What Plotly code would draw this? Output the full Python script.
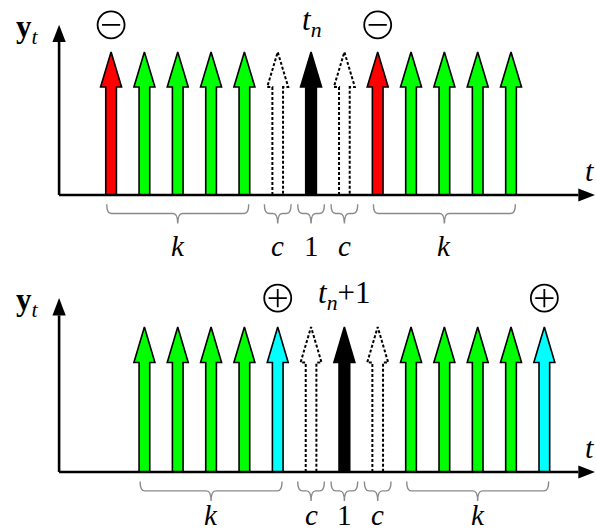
import plotly.graph_objects as go

# Time slots of the impulses in each panel and the role of each impulse
top_times = [0, 1, 2, 3, 4, 5, 6, 7, 8, 9, 10, 11, 12]
top_roles = ["drop", "keep", "keep", "keep", "keep", "gap", "now", "gap",
             "drop", "keep", "keep", "keep", "keep"]
bottom_times = [1, 2, 3, 4, 5, 6, 7, 8, 9, 10, 11, 12, 13]
bottom_roles = ["keep", "keep", "keep", "keep", "add", "gap", "now", "gap",
                "keep", "keep", "keep", "keep", "add"]
impulse_height = 1.0

# Braced groups under the time axis: (first time, last time, label)
top_groups = [(0, 4, "k"), (5, 5, "c"), (6, 6, "1"), (7, 7, "c"), (8, 12, "k")]
bottom_groups = [(1, 5, "k"), (6, 6, "c"), (7, 7, "1"), (8, 8, "c"), (9, 13, "k")]

# Sign markers above impulses: (time, sign)
top_signs = [(0, "minus"), (8, "minus")]
bottom_signs = [(5, "plus"), (13, "plus")]

top_title = "<i>t<sub>n</sub></i>"
bottom_title = "<i>t<sub>n</sub></i>+1"

SERIF = "Liberation Serif, Times New Roman, DejaVu Serif, serif"
ROLE_STYLE = {
    "drop": dict(fill="#ff0000", dash="solid", edge="#000000", w=1.6),
    "keep": dict(fill="#00ff00", dash="solid", edge="#000000", w=1.6),
    "add": dict(fill="#00ffff", dash="solid", edge="#000000", w=1.6),
    "gap": dict(fill="#ffffff", dash="3px,2px", edge="#000000", w=2.0),
    "now": dict(fill="#000000", dash="solid", edge="#000000", w=1.6),
}
SHAFT_HW = 0.16
HEAD_HW = 0.315
HEAD_LEN = 0.245

X_RANGE = [-3.333, 14.55]
AXIS_ORIGIN = -1.56
PANELS = [
    dict(times=top_times, roles=top_roles, groups=top_groups, signs=top_signs,
         title=top_title, xref="x", yref="y", yrange=[-0.497, 1.364],
         domain=[0.5, 1.0], label_y=-0.36, ytop=1.19, sign_y=1.19),
    dict(times=bottom_times, roles=bottom_roles, groups=bottom_groups,
         signs=bottom_signs, title=bottom_title, xref="x2", yref="y2",
         yrange=[-0.414, 1.421], domain=[0.0, 0.5], label_y=-0.295,
         ytop=1.2, sign_y=1.2),
]

fig = go.Figure()
shapes = []
annotations = []


def arrow_outline(t, h):
    xs = [t - SHAFT_HW, t - SHAFT_HW, t - HEAD_HW, t, t + HEAD_HW,
          t + SHAFT_HW, t + SHAFT_HW, t - SHAFT_HW]
    ys = [0, h - HEAD_LEN, h - HEAD_LEN, h, h - HEAD_LEN, h - HEAD_LEN, 0, 0]
    return xs, ys


def brace_path(x0, x1, y_top=-0.065, y_mid=-0.13, y_tip=-0.2, r=0.14):
    xm = (x0 + x1) / 2
    return (f"M {x0},{y_top} Q {x0},{y_mid} {x0 + r},{y_mid} "
            f"L {xm - r},{y_mid} Q {xm},{y_mid} {xm},{y_tip} "
            f"Q {xm},{y_mid} {xm + r},{y_mid} "
            f"L {x1 - r},{y_mid} Q {x1},{y_mid} {x1},{y_top}")


def add_poly(xs, ys, xa, ya, fill, color="#000000", width=0, dash="solid"):
    fig.add_trace(go.Scatter(
        x=xs, y=ys, xaxis=xa, yaxis=ya, mode="lines", fill="toself",
        fillcolor=fill, line=dict(color=color, width=width, dash=dash),
        hoverinfo="skip", showlegend=False))


for p in PANELS:
    xa, ya = p["xref"], p["yref"]
    # impulses
    for t, role in zip(p["times"], p["roles"]):
        st = ROLE_STYLE[role]
        xs, ys = arrow_outline(t, impulse_height)
        add_poly(xs, ys, xa, ya, st["fill"], st["edge"], st["w"], st["dash"])

    # braces and their labels
    for first, last, lab in p["groups"]:
        pad = 0.4 if first == last else 0.13
        x0, x1 = first - pad, last + pad
        shapes.append(dict(type="path", xref=xa, yref=ya, path=brace_path(x0, x1),
                           line=dict(color="#8a8a8a", width=1.4)))
        annotations.append(dict(
            x=(first + last) / 2, y=p["label_y"], xref=xa, yref=ya,
            text=lab if lab.isdigit() else f"<i>{lab}</i>", showarrow=False,
            font=dict(family=SERIF, size=29, color="#000000")))

    # sign markers
    sx = [s[0] for s in p["signs"]]
    sy = [p["sign_y"]] * len(sx)
    fig.add_trace(go.Scatter(
        x=sx, y=sy, xaxis=xa, yaxis=ya, mode="markers",
        marker=dict(symbol="circle-open", size=27, color="#000000",
                    line=dict(width=1.8, color="#000000")),
        hoverinfo="skip", showlegend=False))
    inner = "line-ew" if p["signs"][0][1] == "minus" else "cross-thin"
    fig.add_trace(go.Scatter(
        x=sx, y=sy, xaxis=xa, yaxis=ya, mode="markers",
        marker=dict(symbol=inner, size=13, color="#000000",
                    line=dict(width=1.8, color="#000000")),
        hoverinfo="skip", showlegend=False))

    # drawn axes: shafts plus filled arrowheads
    y_head, x_head = 0.12, 0.5
    x_end = X_RANGE[1] - 0.03
    fig.add_trace(go.Scatter(
        x=[AXIS_ORIGIN, AXIS_ORIGIN, None, AXIS_ORIGIN, x_end - x_head],
        y=[0, p["ytop"] - y_head, None, 0, 0], xaxis=xa, yaxis=ya, mode="lines",
        line=dict(color="#000000", width=2.6), hoverinfo="skip", showlegend=False))
    add_poly([AXIS_ORIGIN - 0.2, AXIS_ORIGIN, AXIS_ORIGIN + 0.2, AXIS_ORIGIN - 0.2],
             [p["ytop"] - y_head, p["ytop"], p["ytop"] - y_head, p["ytop"] - y_head],
             xa, ya, "#000000")
    add_poly([x_end - x_head, x_end, x_end - x_head, x_end - x_head],
             [0.045, 0, -0.045, 0.045], xa, ya, "#000000")

    # axis names and panel title
    annotations.append(dict(x=AXIS_ORIGIN - 0.95, y=p["ytop"] - 0.03, xref=xa, yref=ya,
                            text="<b>y</b><i><sub>t</sub></i>", showarrow=False,
                            font=dict(family=SERIF, size=31, color="#000000")))
    annotations.append(dict(x=X_RANGE[1] - 0.2, y=0.17, xref=xa, yref=ya,
                            text="<i>t</i>", showarrow=False,
                            font=dict(family=SERIF, size=30, color="#000000")))
    annotations.append(dict(x=p["times"][p["roles"].index("now")], y=p["sign_y"] + 0.02,
                            xref=xa, yref=ya, text=p["title"], showarrow=False,
                            font=dict(family=SERIF, size=31, color="#000000")))

layout_axes = {}
for i, p in enumerate(PANELS):
    sfx = "" if i == 0 else str(i + 1)
    layout_axes["xaxis" + sfx] = dict(range=X_RANGE, visible=False, fixedrange=True,
                                      anchor="y" + sfx)
    layout_axes["yaxis" + sfx] = dict(range=p["yrange"], visible=False, fixedrange=True,
                                      domain=p["domain"], anchor="x" + sfx)

fig.update_layout(
    width=596, height=532, margin=dict(l=0, r=0, t=0, b=0),
    paper_bgcolor="#ffffff", plot_bgcolor="#ffffff",
    shapes=shapes, annotations=annotations, showlegend=False,
    **layout_axes)

fig.write_html("out.html", config={"displayModeBar": False})
